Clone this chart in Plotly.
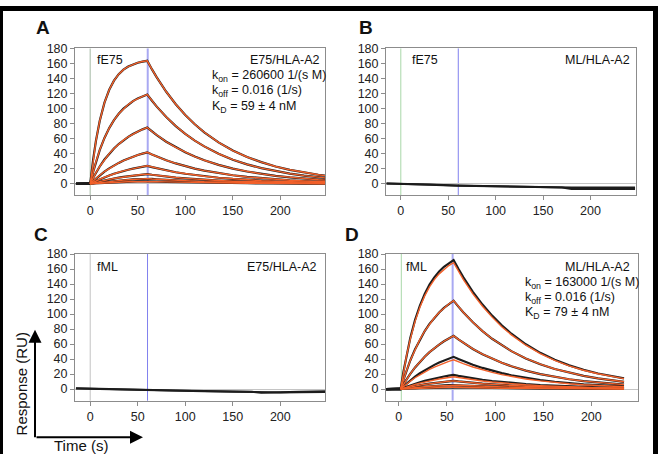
import plotly.graph_objects as go

W, H = 658, 454

# ---------------- data ----------------
T_A = [-15, -5, 0, 3, 6, 10, 15, 20, 25, 30, 35, 40, 45, 50, 55, 60, 65, 70, 80, 90, 100,
       110, 120, 135, 150, 165, 180, 195, 210, 225, 240, 247]
A_CURVES = [
    [0, 0, 0, 31.5, 57.1, 83.8, 108.2, 125.4, 137.5, 146.2, 152.2, 156.4, 159.3, 161.5, 163.0, 164.0,
     152.5, 141.9, 122.7, 106.1, 91.8, 79.4, 68.7, 55.3, 44.4, 35.8, 28.9, 23.1, 18.7, 15.0, 12.1, 10.9],
    [0, 0, 0, 15.6, 29.2, 45.0, 61.2, 74.3, 84.9, 93.4, 100.2, 105.7, 110.3, 113.9, 116.7, 119.0,
     110.7, 102.9, 89.0, 77.0, 66.6, 57.6, 49.9, 40.1, 32.2, 25.9, 20.9, 16.8, 13.6, 10.9, 8.7, 7.9],
    [0, 0, 0, 7.7, 14.7, 23.1, 32.4, 40.3, 47.2, 53.1, 58.2, 62.7, 66.4, 69.7, 72.6, 75.0,
     69.8, 64.9, 56.1, 48.5, 42.0, 36.3, 31.4, 25.3, 20.3, 16.4, 13.2, 10.6, 8.6, 6.9, 5.5, 5.0],
    [0, 0, 0, 3.7, 7.2, 11.5, 16.4, 20.6, 24.5, 27.9, 31.0, 33.7, 36.2, 38.4, 40.3, 42.0,
     39.1, 36.3, 31.4, 27.2, 23.5, 20.3, 17.6, 14.2, 11.4, 9.2, 7.4, 5.9, 4.8, 3.8, 3.1, 2.8],
    [0, 0, 0, 2.0, 3.8, 6.1, 8.8, 11.2, 13.4, 15.4, 17.2, 18.8, 20.3, 21.7, 22.9, 24.0,
     22.3, 20.8, 18.0, 15.5, 13.4, 11.6, 10.1, 8.1, 6.5, 5.2, 4.2, 3.4, 2.7, 2.2, 1.8, 1.6],
    [0, 0, 0, 1.0, 2.0, 3.2, 4.6, 5.9, 7.1, 8.2, 9.2, 10.1, 10.9, 11.7, 12.4, 13.0,
     12.1, 11.2, 9.7, 8.4, 7.3, 6.3, 5.4, 4.4, 3.5, 2.8, 2.3, 1.8, 1.5, 1.2, 1.0, 0.9],
    [0, 0, 0, 0.5, 1.1, 1.7, 2.5, 3.2, 3.8, 4.4, 5.0, 5.4, 5.9, 6.3, 6.7, 7.0,
     6.5, 6.1, 5.2, 4.5, 3.9, 3.4, 2.9, 2.4, 1.9, 1.5, 1.2, 1.0, 0.8, 0.6, 0.5, 0.5],
    [0, 0, 0, 0.3, 0.5, 0.9, 1.2, 1.6, 1.9, 2.2, 2.5, 2.7, 2.9, 3.2, 3.3, 3.5,
     3.3, 3.0, 2.6, 2.3, 2.0, 1.7, 1.5, 1.2, 0.9, 0.8, 0.6, 0.5, 0.4, 0.3, 0.3, 0.2],
]

T_D = [-13, -5, 0, 2, 5, 8, 12, 17, 22, 27, 32, 37, 42, 47, 52, 57, 62, 67, 77, 87, 97,
       107, 117, 132, 147, 162, 177, 192, 207, 222, 234]
D1_DATA = [0, 0, 0, 0, 23.7, 44.5, 68.0, 92.2, 111.4, 126.8, 139.2, 148.9, 156.8, 163.0, 168.1, 172.0,
           160.3, 149.3, 129.7, 112.7, 97.9, 85.0, 73.8, 59.7, 48.3, 39.0, 31.6, 25.6, 20.8, 16.8, 14.2]
D1_FIT = [0, 0, 0, 0, 23.2, 43.6, 66.6, 90.3, 109.1, 124.2, 136.3, 145.9, 153.6, 159.7, 164.7, 168.5,
          157.0, 146.3, 127.0, 110.4, 95.9, 83.2, 72.3, 58.5, 47.3, 38.2, 31.0, 25.1, 20.4, 16.5, 13.9]
D2 = [0, 0, 0, 0, 12.7, 24.2, 38.1, 53.2, 66.3, 77.4, 87.0, 95.1, 102.2, 108.3, 113.4, 117.9,
      110.0, 102.4, 89.0, 77.3, 67.1, 58.3, 50.6, 40.9, 33.2, 26.8, 21.7, 17.6, 14.3, 11.5, 9.7]
D3 = [0, 0, 0, 0, 6.6, 12.8, 20.3, 28.9, 36.5, 43.2, 49.3, 54.7, 59.4, 63.8, 67.5, 71.0,
      66.2, 61.6, 53.5, 46.5, 40.4, 35.1, 30.5, 24.6, 20.0, 16.1, 13.1, 10.6, 8.6, 6.9, 5.9]
D4_DATA = [0, 0, 0, 0, 3.7, 7.2, 11.6, 16.6, 21.1, 25.2, 28.9, 32.3, 35.4, 38.1, 40.7, 43.0,
           40.1, 37.3, 32.4, 28.2, 24.5, 21.2, 18.4, 14.9, 12.1, 9.8, 7.9, 6.4, 5.2, 4.2, 3.5]
D4_FIT = [0, 0, 0, 0, 3.4, 6.5, 10.5, 15.1, 19.2, 22.9, 26.3, 29.4, 32.1, 34.6, 36.9, 39.0,
          36.3, 33.9, 29.4, 25.5, 22.2, 19.3, 16.7, 13.5, 11.0, 8.9, 7.2, 5.8, 4.7, 3.8, 3.2]
D5_DATA = [0, 0, 0, 0, 1.6, 3.1, 5.0, 7.1, 9.1, 10.9, 12.6, 14.1, 15.5, 16.8, 17.9, 19.0,
           17.7, 16.5, 14.3, 12.4, 10.8, 9.4, 8.2, 6.6, 5.3, 4.3, 3.5, 2.8, 2.3, 1.9, 1.6]
D5_FIT = [0, 0, 0, 0, 1.4, 2.7, 4.3, 6.2, 7.9, 9.5, 10.9, 12.2, 13.4, 14.5, 15.5, 16.5,
          15.4, 14.3, 12.4, 10.8, 9.4, 8.2, 7.1, 5.7, 4.6, 3.7, 3.0, 2.5, 2.0, 1.6, 1.4]
D6 = [0, 0, 0, 0, 0.9, 1.8, 2.9, 4.1, 5.3, 6.3, 7.3, 8.2, 9.0, 9.7, 10.4, 11.0,
      10.2, 9.5, 8.3, 7.2, 6.3, 5.4, 4.7, 3.8, 3.1, 2.5, 2.0, 1.6, 1.3, 1.1, 0.9]
D7 = [0, 0, 0, 0, 0.5, 0.9, 1.5, 2.1, 2.7, 3.2, 3.7, 4.1, 4.5, 4.9, 5.2, 5.5,
      5.1, 4.8, 4.2, 3.6, 3.2, 2.7, 2.4, 1.9, 1.6, 1.3, 1.0, 0.8, 0.7, 0.6, 0.5]
D8 = [0, 0, 0, 0, 0.2, 0.4, 0.7, 1.0, 1.2, 1.4, 1.7, 1.9, 2.0, 2.2, 2.4, 2.5,
      2.3, 2.2, 1.9, 1.6, 1.4, 1.2, 1.1, 0.9, 0.7, 0.6, 0.5, 0.4, 0.3, 0.3, 0.2]
D_DATA = [D1_DATA, D2, D3, D4_DATA, D5_DATA, D6, D7, D8]
D_FIT = [D1_FIT, D2, D3, D4_FIT, D5_FIT, D6, D7, D8]

T_BC = [-15, 0, 30, 60, 90, 120, 150, 170, 180, 200, 220, 247]
B_LINES = [
    [0.5, 0.3, -1.0, -2.3, -3.0, -3.5, -4.5, -5.0, -7.0, -6.5, -6.5, -7.0],
    [0.3, 0.0, -1.2, -2.6, -3.3, -4.0, -5.0, -5.5, -5.0, -5.0, -4.6, -5.0],
]
C_LINES = [
    [1.0, 0.5, 0.0, -1.0, -2.0, -2.5, -3.0, -3.5, -5.0, -3.8, -3.5, -3.0],
    [0.8, 0.3, -0.5, -1.3, -2.3, -3.0, -3.5, -4.2, -4.0, -4.5, -4.2, -4.0],
]

Y_TICKS = [0, 20, 40, 60, 80, 100, 120, 140, 160, 180]
X_TICKS = [0, 50, 100, 150, 200]

# ---------------- styling ----------------
FONT = "Arial, 'Liberation Sans', sans-serif"
BLACK = "#1c1c1c"
ORANGE = "#f2602a"
AX = "#8c8c8c"


def px(x):
    return x / W


def py(y):
    return 1 - y / H


panels = {
    # name: (x-domain px, y-domain px, x-range)
    "A": ((75, 325), (43, 192), [-16, 247]),
    "B": ((386, 636), (43, 192), [-15.6, 248]),
    "C": ((75, 325), (251, 400), [-16, 247]),
    "D": ((386, 638), (251, 400), [-13.2, 248.5]),
}
axis_ids = {"A": "", "B": "2", "C": "3", "D": "4"}

fig = go.Figure()


def add(panel, x, y, color, width):
    i = axis_ids[panel]
    fig.add_trace(go.Scatter(x=x, y=y, mode="lines", line=dict(color=color, width=width),
                             xaxis="x" + i, yaxis="y" + i, hoverinfo="skip"))


# Panel A
for c in A_CURVES:
    add("A", T_A, c, BLACK, 2.2)
for c in A_CURVES:
    add("A", T_A[2:], c[2:], ORANGE, 1.4)
# Panel B
for c in B_LINES:
    add("B", T_BC, c, BLACK, 2.0)
# Panel C
for c in C_LINES:
    add("C", T_BC, c, BLACK, 2.0)
# Panel D
for c in D_DATA:
    add("D", T_D, c, BLACK, 2.2)
for c in D_FIT:
    add("D", T_D[3:], c[3:], ORANGE, 1.4)

layout = dict(
    width=W, height=H, margin=dict(l=0, r=0, t=0, b=0),
    paper_bgcolor="white", plot_bgcolor="white", showlegend=False,
    font=dict(family=FONT, color="#222222"),
)
for name, (xd, yd, xr) in panels.items():
    i = axis_ids[name]
    layout["xaxis" + i] = dict(
        domain=[px(xd[0]), px(xd[1])], range=xr, anchor="y" + i,
        tickmode="array", tickvals=X_TICKS, ticks="outside", ticklen=4, tickcolor=AX,
        showline=True, linecolor=AX, linewidth=1, mirror=True, showgrid=False, zeroline=False,
        tickfont=dict(size=12.5, family=FONT, color="#222222"),
    )
    layout["yaxis" + i] = dict(
        domain=[py(yd[1]), py(yd[0])], range=[-15.5, 180.5], anchor="x" + i,
        tickmode="array", tickvals=Y_TICKS, ticks="outside", ticklen=4, tickcolor=AX,
        showline=True, linecolor=AX, linewidth=1, mirror=True, showgrid=False,
        zeroline=True, zerolinecolor="#c4c4c4", zerolinewidth=1,
        tickfont=dict(size=12.5, family=FONT, color="#222222"),
    )
fig.update_layout(**layout)

# vertical injection markers
vlines = [
    ("A", 0, "#b9c9b9", 1.3), ("A", 60.5, "#a9a9f2", 2.0),
    ("B", 0, "#a8d8a8", 1.0), ("B", 60.6, "#8080ee", 1.0),
    ("C", 0, "#c2c2c2", 1.0), ("C", 60.3, "#8080ee", 1.0),
    ("D", 2.7, "#a8d8a8", 1.0), ("D", 56, "#a9a9f2", 2.0),
]
shapes = []
for p, t, col, w in vlines:
    i = axis_ids[p]
    shapes.append(dict(type="line", xref="x" + i, yref="y" + i + " domain", x0=t, x1=t, y0=0, y1=1,
                       line=dict(color=col, width=w), layer="below"))

# black frame edges of the photo
shapes += [
    dict(type="rect", xref="paper", yref="paper", x0=0, x1=1, y0=py(5), y1=1,
         fillcolor="black", line=dict(width=0)),
    dict(type="rect", xref="paper", yref="paper", x0=0, x1=px(3), y0=0, y1=1,
         fillcolor="black", line=dict(width=0)),
    dict(type="rect", xref="paper", yref="paper", x0=px(653), x1=1, y0=0, y1=1,
         fillcolor="black", line=dict(width=0)),
]
fig.update_layout(shapes=shapes)

ann = []


def text(x, y, s, xanchor="left", size=12.5, bold=False, angle=0):
    ann.append(dict(xref="paper", yref="paper", x=px(x), y=py(y), text=("<b>%s</b>" % s) if bold else s,
                    showarrow=False, xanchor=xanchor, yanchor="middle", textangle=angle,
                    font=dict(size=size, family=FONT, color="#111111")))


# panel letters
text(42.5, 21.5, "A", "center", 19, True)
text(365.5, 21.5, "B", "center", 19, True)
text(41, 232, "C", "center", 19, True)
text(352, 232, "D", "center", 19, True)

# Panel A texts
text(95, 55, "fE75")
text(322, 54.5, "E75/HLA-A2", "right")
text(209.5, 71, "k<sub>on</sub> = 260600 1/(s M)")
text(209.5, 86.5, "k<sub>off</sub> = 0.016 (1/s)")
text(209.5, 102, "K<sub>D</sub> = 59 ± 4 nM")
# Panel B texts
text(409.5, 55, "fE75")
text(631.5, 54.5, "ML/HLA-A2", "right")
# Panel C texts
text(95, 264.5, "fML")
text(318.5, 264.5, "E75/HLA-A2", "right")
# Panel D texts
text(404, 264, "fML")
text(632, 264, "ML/HLA-A2", "right")
text(523, 280.5, "k<sub>on</sub> = 163000 1/(s M)")
text(523, 296, "k<sub>off</sub> = 0.016 (1/s)")
text(523, 311.5, "K<sub>D</sub> = 79 ± 4 nM")

# axis-direction arrows and labels
ann.append(dict(xref="paper", yref="paper", x=px(35), y=py(328), ax=0, ay=109,
                showarrow=True, arrowhead=2, arrowsize=1.3, arrowwidth=2, arrowcolor="black", text=""))
ann.append(dict(xref="paper", yref="paper", x=px(143), y=py(437), ax=-108, ay=0,
                showarrow=True, arrowhead=2, arrowsize=1.3, arrowwidth=2, arrowcolor="black", text=""))
text(21.5, 383, "Response (RU)", "center", 15, False, -90)
text(81, 445, "Time (s)", "center", 15)

fig.update_layout(annotations=ann)
fig.write_html("out.html")
